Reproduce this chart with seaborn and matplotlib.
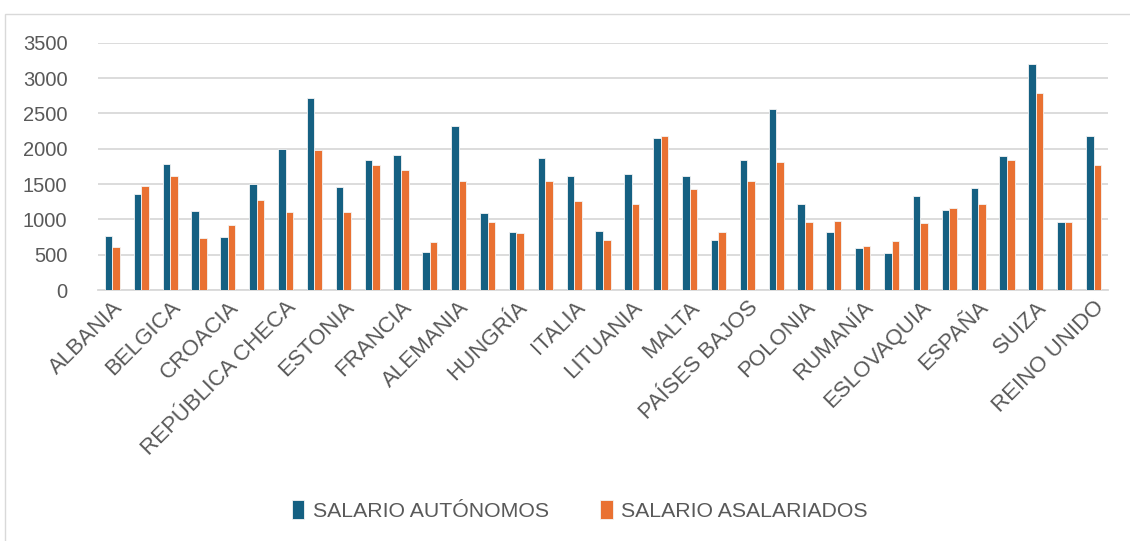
import matplotlib
matplotlib.use("Agg")
import matplotlib.pyplot as plt
import seaborn as sns
import pandas as pd
from matplotlib.patches import Rectangle

paises = ["ALBANIA", "AUSTRIA", "BELGICA", "BULGARIA", "CROACIA", "CHIPRE",
          "REPÚBLICA CHECA", "DINAMARCA", "ESTONIA", "FINLANDIA", "FRANCIA",
          "GEORGIA", "ALEMANIA", "GRECIA", "HUNGRÍA", "IRLANDA", "ITALIA",
          "LETONIA", "LITUANIA", "LUXEMBURGO", "MALTA", "MONTENEGRO",
          "PAÍSES BAJOS", "NORUEGA", "POLONIA", "PORTUGAL", "RUMANÍA",
          "SERBIA", "ESLOVAQUIA", "ESLOVENIA", "ESPAÑA", "SUECIA", "SUIZA",
          "TURQUÍA", "REINO UNIDO"]
salario_autonomos = [760, 1358, 1778, 1122, 745, 1505, 2000, 2712, 1462, 1845,
                     1905, 540, 2315, 1095, 825, 1872, 1617, 840, 1641, 2150,
                     1612, 708, 1840, 2556, 1222, 826, 600, 520, 1335, 1137,
                     1448, 1891, 3200, 963, 2183]
salario_asalariados = [604, 1466, 1617, 731, 925, 1274, 1109, 1980, 1104, 1769,
                       1698, 676, 1543, 963, 807, 1547, 1260, 713, 1217, 2183,
                       1425, 816, 1547, 1812, 963, 972, 628, 694, 953, 1161,
                       1222, 1840, 2782, 967, 1769]
series = ["SALARIO AUTÓNOMOS", "SALARIO ASALARIADOS"]
yticks = [0, 500, 1000, 1500, 2000, 2500, 3000, 3500]

df = pd.DataFrame({
    "pais": paises * 2,
    "valor": salario_autonomos + salario_asalariados,
    "serie": [series[0]] * len(paises) + [series[1]] * len(paises),
})

sns.set_style("white")
plt.rcParams["font.family"] = ["Liberation Sans", "DejaVu Sans"]

fig = plt.figure(figsize=(11.3, 5.41), dpi=100)
ax = fig.add_axes([98 / 1130, 1 - 290 / 541, (1108 - 98) / 1130, (290 - 42.7) / 541])

sns.barplot(data=df, x="pais", y="valor", hue="serie", order=paises,
            hue_order=series, palette=["#156082", "#E97132"], saturation=1,
            width=0.52, edgecolor="#F4F4F4", linewidth=0.6, ax=ax,
            legend=True, zorder=3)

ax.set_xlim(-0.5, len(paises) - 0.5)
ax.set_ylim(0, 3500)
ax.set_yticks(yticks)
ax.set_yticklabels([str(v) for v in yticks], fontsize=14.5, color="#595959")
ax.tick_params(axis="y", length=0, pad=22)
ax.tick_params(axis="x", length=0, pad=5)
ax.set_xticks(range(0, len(paises), 2))
ax.set_xticklabels(paises[::2], rotation=45, ha="right", va="top",
                   rotation_mode="anchor", fontsize=16, color="#595959")
ax.set_xlabel("")
ax.set_ylabel("")
ax.grid(axis="y", color="#D9D9D9", linewidth=1.3, zorder=0)
ax.set_axisbelow(True)
for s in ["top", "right", "left"]:
    ax.spines[s].set_visible(False)
ax.spines["bottom"].set_color("#D9D9D9")
ax.spines["bottom"].set_linewidth(1.3)

handles, labels = ax.get_legend_handles_labels()
ax.get_legend().remove()
fig.legend(handles, labels, loc="center", bbox_to_anchor=(0.513, 0.057),
           ncol=2, frameon=False, fontsize=15.3, handlelength=0.6,
           handleheight=1.0, handletextpad=0.4, columnspacing=2.4,
           labelcolor="#595959")

fig.patches.append(Rectangle((5 / 1130, -0.1), 1.2, 1 - 14 / 541 + 0.1,
                             transform=fig.transFigure, fill=False,
                             edgecolor="#D9D9D9", linewidth=1.0))

fig.savefig("out.png", dpi=100)
